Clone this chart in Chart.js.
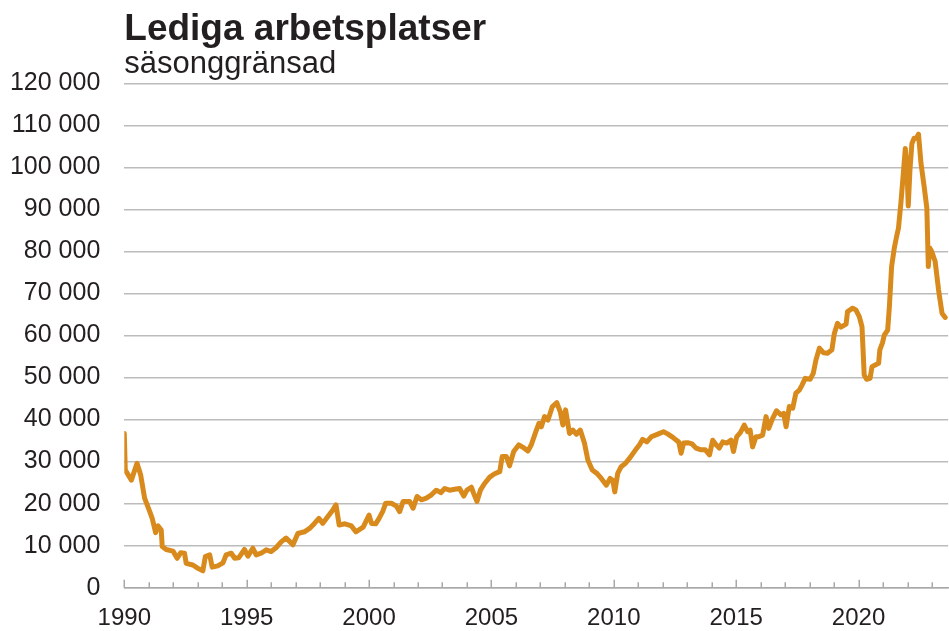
<!DOCTYPE html>
<html>
<head>
<meta charset="utf-8">
<script src="https://cdn.jsdelivr.net/npm/chart.js@4/dist/chart.umd.min.js"></script>
<style>
html,body{margin:0;padding:0;background:#fff;}
#wrap{position:relative;width:949px;height:631px;}
</style>
</head>
<body>
<div id="wrap"><canvas id="c"></canvas></div>
<script>
const titleText = 'Lediga arbetsplatser';
const subtitleText = 'säsonggränsad';

const dates = [
1990.00,1990.04,1990.29,1990.52,1990.67,1990.83,1991.04,1991.14,1991.28,1991.38,
1991.51,1991.55,1991.71,1991.99,1992.16,1992.30,1992.46,1992.53,1992.80,1993.01,
1993.21,1993.31,1993.49,1993.59,1993.82,1994.03,1994.16,1994.37,1994.51,1994.67,
1994.91,1995.05,1995.25,1995.39,1995.59,1995.80,1996.00,1996.20,1996.41,1996.61,
1996.72,1996.89,1997.09,1997.36,1997.57,1997.77,1997.95,1998.11,1998.31,1998.52,
1998.65,1998.78,1999.01,1999.28,1999.46,1999.76,2000.00,2000.10,2000.27,2000.41,
2000.57,2000.68,2000.91,2001.12,2001.25,2001.39,2001.66,2001.80,2001.96,2002.14,
2002.34,2002.55,2002.75,2002.93,2003.09,2003.29,2003.50,2003.70,2003.87,2004.00,
2004.18,2004.27,2004.41,2004.55,2004.72,2004.93,2005.13,2005.34,2005.44,2005.61,
2005.74,2005.91,2006.12,2006.29,2006.49,2006.63,2006.80,2006.94,2007.04,2007.17,
2007.31,2007.49,2007.67,2007.81,2007.92,2008.03,2008.19,2008.33,2008.47,2008.63,
2008.80,2008.94,2009.12,2009.31,2009.49,2009.69,2009.85,2009.96,2010.04,2010.16,
2010.30,2010.48,2010.67,2010.89,2011.05,2011.18,2011.35,2011.53,2011.70,2011.87,
2012.03,2012.20,2012.38,2012.55,2012.65,2012.75,2012.85,2013.02,2013.20,2013.36,
2013.57,2013.74,2013.91,2014.04,2014.18,2014.31,2014.45,2014.61,2014.79,2014.89,
2015.02,2015.17,2015.33,2015.47,2015.57,2015.67,2015.81,2015.92,2016.08,2016.22,
2016.33,2016.49,2016.65,2016.83,2016.94,2017.04,2017.17,2017.31,2017.44,2017.58,
2017.69,2017.82,2018.02,2018.15,2018.26,2018.40,2018.56,2018.73,2018.91,2019.01,
2019.14,2019.28,2019.49,2019.55,2019.76,2019.89,2020.03,2020.14,2020.19,2020.23,
2020.33,2020.47,2020.55,2020.68,2020.82,2020.87,2020.98,2021.05,2021.19,2021.26,
2021.35,2021.46,2021.56,2021.63,2021.73,2021.83,2021.91,2021.98,2022.03,2022.10,
2022.18,2022.27,2022.37,2022.45,2022.55,2022.68,2022.79,2022.85,2022.91,2022.99,
2023.13,2023.27,2023.41,2023.54
];

const values = [
36700,28000,25600,29600,26800,21300,18100,16500,13100,14700,
13700,9800,9100,8700,7000,8300,8200,5800,5400,4600,
4000,7400,7800,4900,5200,5900,7800,8200,7000,7100,
9100,7500,9400,7800,8200,9000,8600,9500,10900,11800,
11200,10200,12900,13300,14100,15300,16500,15300,16900,18500,
19700,14900,15200,14700,13300,14400,17300,15300,15200,16500,
18300,20100,20100,19400,18100,20500,20500,18900,21700,20900,
21300,22100,23200,22600,23600,23200,23400,23600,21800,23200,
23900,22500,20500,23200,24800,26300,27100,27600,31200,31200,
29000,32400,34000,33400,32500,34000,36900,39100,38300,40700,
39900,43100,44000,41900,38700,42300,36700,37500,36500,37500,
34400,30400,28000,27200,26000,24400,26000,25500,22800,27200,
28800,29600,31000,32800,34000,35300,34700,35900,36300,36700,
37100,36600,35900,35100,34700,32000,34400,34500,34200,33200,
32800,32800,31600,35100,34000,33200,34700,34400,35100,32400,
35900,36900,38700,37100,37500,33500,35900,35900,36300,40700,
37900,40300,42100,41100,41500,38300,43100,42700,46300,47000,
48200,49800,49600,51000,54200,57000,55900,55800,56600,60500,
62900,62000,62700,65700,66500,66100,64500,62100,55800,50600,
49600,49800,52600,53000,53400,56600,58300,60100,61300,66900,
76400,80800,83700,85500,91500,98600,104500,99400,90800,99400,
105700,106900,106900,107900,101000,95400,90300,76400,80800,80000,
77600,70800,65300,64300
];

const xMin = 1990;
const xMax = 2023.66;
const yTicks = [0,10000,20000,30000,40000,50000,60000,70000,80000,90000,100000,110000,120000];
const xLabelYears = [1990,1995,2000,2005,2010,2015,2020];

const textColor = '#231f20';
const lineColor = '#d98a1c';
const gridColor = '#bcbcbc';
const axisColor = '#a8a8a8';
const fontFamily = '"Liberation Sans", Arial, Helvetica, sans-serif';

function fmt(v){ return String(v).replace(/\B(?=(\d{3})+(?!\d))/g, ' '); }

const innerTicks = {
  id: 'innerTicks',
  beforeDatasetsDraw(chart){
    const xs = chart.scales.x;
    const ctx = chart.ctx;
    const y0 = xs.top;
    ctx.save();
    ctx.strokeStyle = axisColor;
    ctx.lineWidth = 1.5;
    xs.ticks.forEach(t => {
      if (Math.abs(t.value - Math.round(t.value)) > 1e-6) return;
      const px = Math.round(xs.getPixelForValue(t.value)) + 0.25;
      const len = xLabelYears.includes(Math.round(t.value)) ? 8 : 5.5;
      ctx.beginPath();
      ctx.moveTo(px, y0);
      ctx.lineTo(px, y0 - len);
      ctx.stroke();
    });
    ctx.restore();
  }
};

new Chart(document.getElementById('c'), {
  type: 'line',
  data: {
    datasets: [{
      data: dates.map((d, i) => ({x: d, y: values[i]})),
      borderColor: lineColor,
      borderWidth: 5,
      pointRadius: 0,
      tension: 0,
      borderJoinStyle: 'round',
      borderCapStyle: 'round',
      fill: false
    }]
  },
  options: {
    responsive: true,
    maintainAspectRatio: false,
    animation: false,
    devicePixelRatio: 1,
    layout: { padding: 0 },
    plugins: {
      legend: { display: false },
      tooltip: { enabled: false },
      title: {
        display: true,
        text: titleText,
        align: 'start',
        fullSize: false,
        color: textColor,
        font: { family: fontFamily, size: 37, weight: 'bold', lineHeight: 1 },
        padding: { top: 11, bottom: 0 }
      },
      subtitle: {
        display: true,
        text: subtitleText,
        align: 'start',
        fullSize: false,
        color: textColor,
        font: { family: fontFamily, size: 31, weight: 'normal', lineHeight: 1 },
        padding: { top: 0.7, bottom: 3.6 }
      }
    },
    scales: {
      x: {
        type: 'linear',
        min: xMin,
        max: xMax,
        grid: { display: false, drawTicks: false },
        border: { display: true, color: axisColor, width: 1.5 },
        afterFit: (s) => { s.height = 43.3; },
        ticks: {
          stepSize: 1,
          includeBounds: false,
          autoSkip: false,
          maxRotation: 0,
          minRotation: 0,
          padding: 17,
          color: textColor,
          font: { family: fontFamily, size: 24, lineHeight: 1.1 },
          callback: (v) => xLabelYears.includes(Math.round(v)) && Math.abs(v - Math.round(v)) < 1e-6 ? String(Math.round(v)) : ''
        }
      },
      y: {
        min: 0,
        max: 120000,
        afterBuildTicks: (s) => { s.ticks = yTicks.map(v => ({value: v})); },
        afterFit: (s) => { s.width = 124.3; },
        grid: { color: gridColor, lineWidth: 1.5, drawTicks: false },
        border: { display: false },
        ticks: {
          padding: 24,
          color: textColor,
          font: { family: fontFamily, size: 25 },
          callback: (v) => fmt(v)
        }
      }
    }
  },
  plugins: [innerTicks]
});
</script>
</body>
</html>
